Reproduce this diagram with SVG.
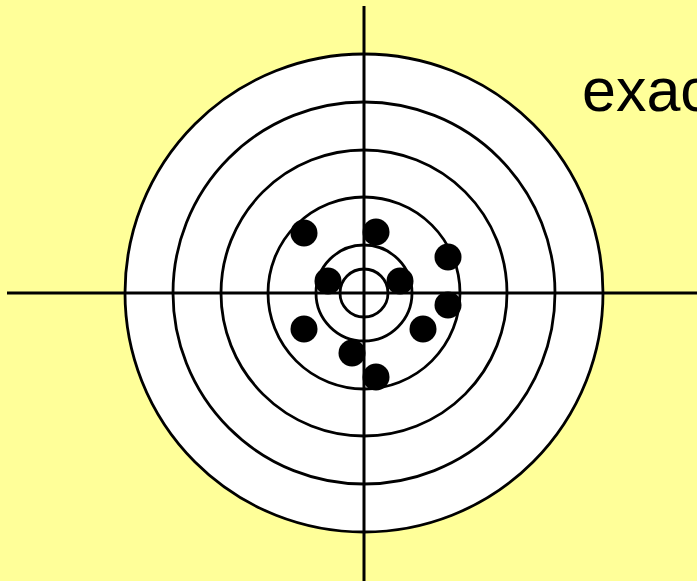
<svg xmlns="http://www.w3.org/2000/svg" width="697" height="581" viewBox="0 0 697 581">
<style>
.ring{fill:none;stroke:#000;stroke-width:2.8}
.hair{stroke:#000;stroke-width:3}
.dot{fill:#000}
.lbl{font-family:"Liberation Sans",Arial,sans-serif;font-size:61px;fill:#000}
</style>
<rect width="697" height="581" fill="#FFFF99"/>
<g id="target">
<circle cx="364" cy="293" r="239" fill="#fff" stroke="#000" stroke-width="2.8"/>
<circle class="ring" cx="364" cy="293" r="191"/>
<circle class="ring" cx="364" cy="293" r="143"/>
<circle class="ring" cx="364" cy="293" r="96"/>
<circle class="ring" cx="364" cy="293" r="48"/>
<circle class="ring" cx="364" cy="293" r="24"/>
</g>
<g id="crosshair">
<line class="hair" x1="364" y1="6" x2="364" y2="581"/>
<line class="hair" x1="7" y1="293" x2="697" y2="293"/>
</g>
<g id="shots">
<circle class="dot" cx="304" cy="233" r="13.5"/>
<circle class="dot" cx="376" cy="232" r="13.5"/>
<circle class="dot" cx="448" cy="257" r="13.5"/>
<circle class="dot" cx="328" cy="281" r="13.5"/>
<circle class="dot" cx="400" cy="281" r="13.5"/>
<circle class="dot" cx="448" cy="305" r="13.5"/>
<circle class="dot" cx="304" cy="329" r="13.5"/>
<circle class="dot" cx="423" cy="329" r="13.5"/>
<circle class="dot" cx="352" cy="353" r="13.5"/>
<circle class="dot" cx="376" cy="377" r="13.5"/>
</g>
<text id="label" class="lbl" x="582" y="111">exac</text>
</svg>
